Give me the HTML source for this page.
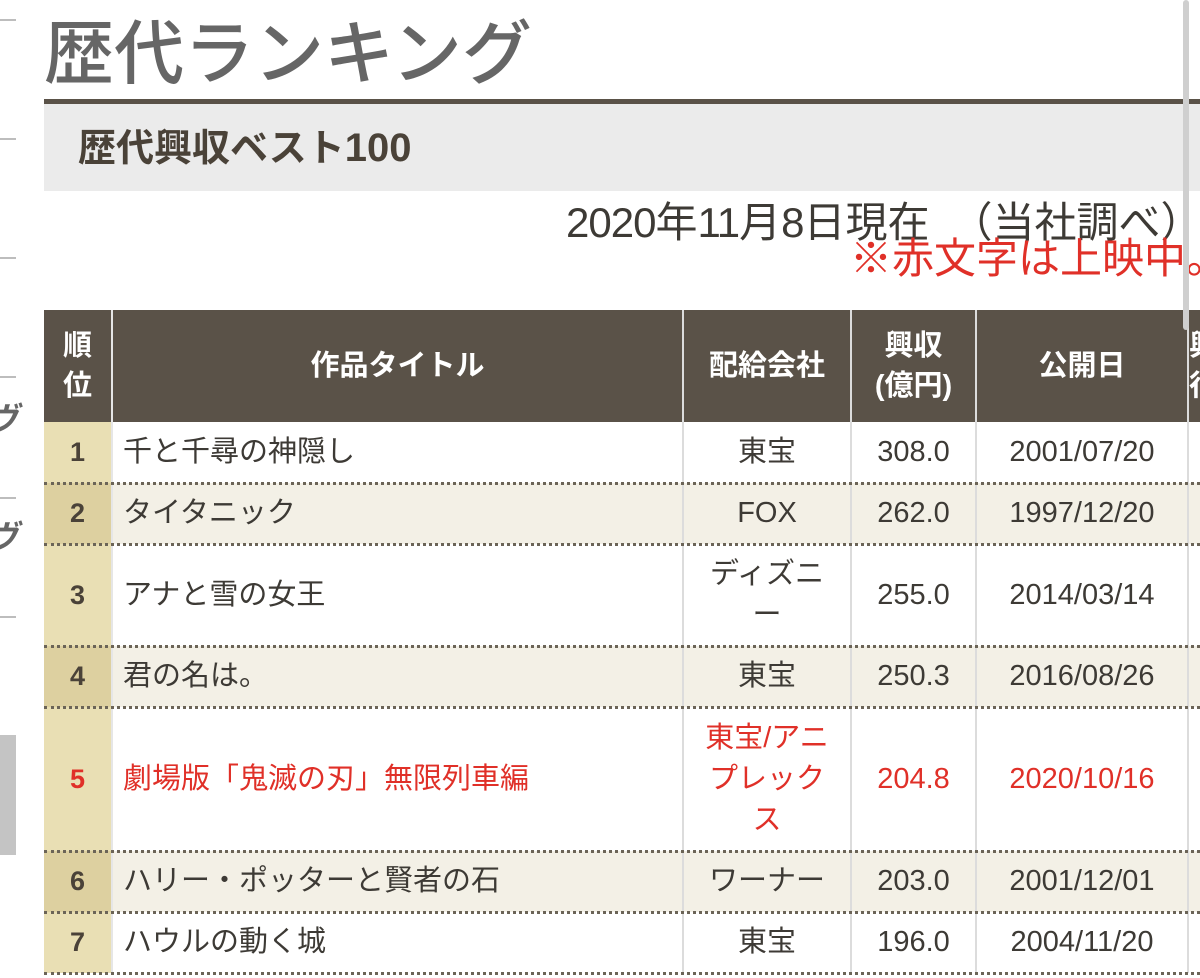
<!DOCTYPE html>
<html><head><meta charset="utf-8">
<style>
*{margin:0;padding:0;box-sizing:border-box}
body{width:1200px;height:978px;overflow:hidden;background:#fff;position:relative;font-family:"Liberation Sans","Noto Sans CJK JP",sans-serif;color:#3d3a35}
.abs{position:absolute}
.sideline{position:absolute;left:0;width:16px;height:2px;background:#bdbdbd}
.cell{position:absolute;display:flex;align-items:center;justify-content:center;text-align:center;font-size:29px;line-height:41px}
.hd{color:#fff;font-weight:bold;font-size:29px;line-height:40px}
.rank{font-weight:bold;font-size:27px;color:#4a4238}
.title{justify-content:flex-start;padding-left:10px}
.red{color:#e03028}
.dot{position:absolute;left:44px;width:1156px;height:0;border-top:3px dotted #6b6457;z-index:3}
.vline{position:absolute;width:2px;background:#dcdcdc;z-index:2}
.dg{letter-spacing:-1px}
</style></head><body>
<div class="sideline" style="top:19px"></div>
<div class="sideline" style="top:138px"></div>
<div class="sideline" style="top:257px"></div>
<div class="sideline" style="top:376px"></div>
<div class="sideline" style="top:497px"></div>
<div class="sideline" style="top:616px"></div>
<div class="abs" style="left:-14px;top:394px;font-size:32px;color:#666;font-weight:bold;font-style:italic;font-family:'Noto Sans CJK JP',sans-serif">ヴ</div>
<div class="abs" style="left:-14px;top:512px;font-size:32px;color:#666;font-weight:bold;font-style:italic;font-family:'Noto Sans CJK JP',sans-serif">ヴ</div>
<div class="abs" style="left:0;top:735px;width:16px;height:120px;background:#c4c4c4"></div>
<div class="abs" style="left:1183px;top:0;width:6px;height:330px;background:#cfcfcf;border-radius:3px;z-index:5"></div>

<div class="abs" style="left:44px;top:4px;font-size:70px;line-height:90px;color:#666;font-family:'Noto Sans CJK JP',sans-serif;font-weight:500">歴代ランキング</div>
<div class="abs" style="left:44px;top:99px;width:1156px;height:5px;background:#5a5248"></div>
<div class="abs" style="left:44px;top:104px;width:1156px;height:87px;background:#ebebeb"></div>
<div class="abs" style="left:78px;top:122px;font-size:38px;line-height:52px;font-weight:bold;color:#4a4238;white-space:nowrap">歴代興収ベスト<span style="font-size:40px">100</span></div>
<div class="abs" style="left:566px;top:196px;font-size:42px;line-height:54px;white-space:nowrap;color:#3d3a35"><span class="dg">2020</span>年<span class="dg">11</span>月<span class="dg">8</span>日現在　（当社調べ）</div>
<div class="abs" style="left:850px;top:232px;font-size:42px;line-height:54px;white-space:nowrap;color:#e03028">※赤文字は上映中。</div>

<div class="abs" style="left:44px;top:310px;width:1156px;height:112px;background:#5a5248"></div>
<div class="vline" style="left:111px;top:310px;height:663px;background:#e6e6e6"></div>
<div class="vline" style="left:682px;top:310px;height:663px"></div>
<div class="vline" style="left:850px;top:310px;height:663px"></div>
<div class="vline" style="left:975px;top:310px;height:663px"></div>
<div class="vline" style="left:1187px;top:310px;height:663px"></div>
<div class="cell hd" style="left:44px;top:310px;width:67px;height:112px">順<br>位</div>
<div class="cell hd" style="left:113px;top:310px;width:569px;height:112px">作品タイトル</div>
<div class="cell hd" style="left:684px;top:310px;width:166px;height:112px">配給会社</div>
<div class="cell hd" style="left:852px;top:310px;width:123px;height:112px">興収<br>(億円)</div>
<div class="cell hd" style="left:977px;top:310px;width:210px;height:112px">公開日</div>
<div class="cell hd" style="left:1189px;top:310px;width:30px;height:112px;justify-content:flex-start">興<br>行</div>

<div id="rows"></div>
<script>
const ranks=["1","2","3","4","5","6","7"];
const titles=["千と千尋の神隠し","タイタニック","アナと雪の女王","君の名は。","劇場版「鬼滅の刃」無限列車編","ハリー・ポッターと賢者の石","ハウルの動く城"];
const distributors=["東宝","FOX","ディズニ<br>ー","東宝","東宝/アニ<br>プレック<br>ス","ワーナー","東宝"];
const revenues=["308.0","262.0","255.0","250.3","204.8","203.0","196.0"];
const dates=["2001/07/20","1997/12/20","2014/03/14","2016/08/26","2020/10/16","2001/12/01","2004/11/20"];
const current=[false,false,false,false,true,false,false];
const rowTops=[422,483,544,646,707,851,912,973];
const root=document.getElementById('rows');
const html=[];
for(let i=0;i<ranks.length;i++){
  const t=rowTops[i],h=rowTops[i+1]-t,even=i%2===1,red=current[i]?' red':'';
  const bg=even?'#f3f0e6':'#fff';
  html.push(`<div class="abs" style="left:113px;top:${t}px;width:1087px;height:${h}px;background:${bg}"></div>`);
  html.push(`<div class="abs" style="left:44px;top:${t}px;width:67px;height:${h}px;background:${even?'#ddd0a0':'#e9dfb4'}"></div>`);
  html.push(`<div class="cell rank${red}" style="left:44px;top:${t}px;width:67px;height:${h}px">${ranks[i]}</div>`);
  html.push(`<div class="cell title${red}" style="left:113px;top:${t}px;width:569px;height:${h}px">${titles[i]}</div>`);
  html.push(`<div class="cell${red}" style="left:684px;top:${t}px;width:166px;height:${h}px">${distributors[i]}</div>`);
  html.push(`<div class="cell${red}" style="left:852px;top:${t}px;width:123px;height:${h}px">${revenues[i]}</div>`);
  html.push(`<div class="cell${red}" style="left:977px;top:${t}px;width:210px;height:${h}px">${dates[i]}</div>`);
  html.push(`<div class="dot" style="top:${rowTops[i+1]-1}px"></div>`);
}
root.innerHTML=html.join('');
</script>
</body></html>
